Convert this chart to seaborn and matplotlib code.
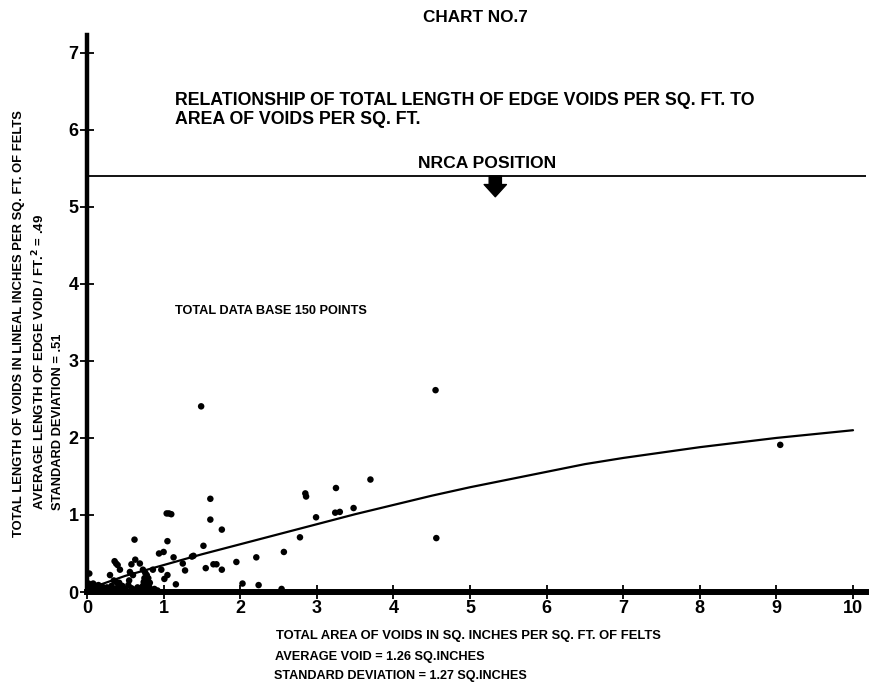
import matplotlib
matplotlib.use("Agg")
import matplotlib.pyplot as plt
import seaborn as sns
import pandas as pd
import numpy as np

# scatter points (area of voids, edge length)
void_area = [
    1.49, 4.55, 4.56, 9.05, 3.70, 3.25, 2.85, 2.86, 3.48, 3.24, 3.30, 2.99,
    2.78, 2.57, 2.21, 1.95, 2.03, 2.24, 2.54, 1.61, 1.61, 1.76, 1.52, 1.37,
    1.39, 1.25, 1.28, 1.55, 1.65, 1.69, 1.76, 1.04, 1.07, 1.10, 0.62, 1.05,
    0.94, 1.00, 1.13, 0.36, 0.38, 0.40, 0.43, 0.58, 0.63, 0.69, 0.73, 0.56,
    0.60, 0.30, 0.03, 0.97, 1.01, 1.05, 0.86, 1.16,
    0.76, 0.78, 0.75, 0.80, 0.74, 0.78, 0.82, 0.73, 0.77, 0.81, 0.72, 0.76,
    0.80, 0.84, 0.78,
    0.02, 0.05, 0.08, 0.10, 0.13, 0.15, 0.18, 0.20, 0.23, 0.26, 0.29, 0.32,
    0.35, 0.38, 0.40, 0.43, 0.46, 0.50, 0.54, 0.58, 0.62, 0.66, 0.70, 0.88,
    0.92, 0.02, 0.06, 0.12, 0.16, 0.28, 0.48, 0.35, 0.42, 0.55,
]
edge_length = [
    2.41, 2.62, 0.70, 1.91, 1.46, 1.35, 1.28, 1.24, 1.09, 1.03, 1.04, 0.97,
    0.71, 0.52, 0.45, 0.39, 0.11, 0.09, 0.04, 1.21, 0.94, 0.81, 0.60, 0.46,
    0.47, 0.37, 0.28, 0.31, 0.36, 0.36, 0.29, 1.02, 1.02, 1.01, 0.68, 0.66,
    0.50, 0.52, 0.45, 0.40, 0.37, 0.35, 0.29, 0.36, 0.42, 0.37, 0.29, 0.26,
    0.22, 0.22, 0.24, 0.29, 0.17, 0.22, 0.29, 0.10,
    0.25, 0.22, 0.18, 0.18, 0.13, 0.13, 0.12, 0.08, 0.08, 0.07, 0.03, 0.03,
    0.03, 0.03, 0.05,
    0.11, 0.09, 0.11, 0.06, 0.08, 0.09, 0.05, 0.07, 0.04, 0.06, 0.05, 0.08,
    0.04, 0.13, 0.06, 0.03, 0.08, 0.04, 0.09, 0.05, 0.03, 0.06, 0.04, 0.04,
    0.02, 0.03, 0.02, 0.02, 0.03, 0.02, 0.02, 0.15, 0.12, 0.15,
]

# fitted curve
curve_x = [0.1, 0.5, 1, 1.5, 2, 2.5, 3, 3.5, 4, 4.5, 5, 5.5, 6, 6.5, 7,
           7.5, 8, 8.5, 9, 9.5, 10]
curve_y = [0.07, 0.21, 0.35, 0.49, 0.62, 0.75, 0.88, 1.01, 1.13, 1.25, 1.36,
           1.46, 1.56, 1.66, 1.74, 1.81, 1.88, 1.94, 2.00, 2.05, 2.10]

nrca_level = 5.4
nrca_arrow_x = 5.33

x_ticks = list(range(0, 11))
y_ticks = list(range(0, 8))

pts = pd.DataFrame({'area': void_area, 'length': edge_length})
fit = pd.DataFrame({'area': curve_x, 'length': curve_y})

sns.set_style('ticks')
plt.rcParams['font.family'] = ['Liberation Sans', 'DejaVu Sans']
plt.rcParams['font.weight'] = 'bold'
plt.rcParams['text.color'] = 'black'
plt.rcParams['axes.edgecolor'] = 'black'
plt.rcParams['xtick.color'] = 'black'
plt.rcParams['ytick.color'] = 'black'

fig = plt.figure(figsize=(8.71, 6.83), dpi=100)
ax = fig.add_axes([0.0999, 0.1332, 0.8944, 0.8156])

sns.lineplot(data=fit, x='area', y='length', ax=ax, color='black', linewidth=1.6)
sns.scatterplot(data=pts, x='area', y='length', ax=ax, color='black', s=22,
                edgecolor='none', linewidth=0, zorder=3)

ax.axhline(nrca_level, color='black', linewidth=1.3)
ax.annotate('', xy=(nrca_arrow_x, nrca_level - 0.27), xytext=(nrca_arrow_x, nrca_level),
            arrowprops=dict(arrowstyle='simple,head_length=0.55,head_width=1.0,tail_width=0.55',
                            color='black', mutation_scale=16, shrinkA=0, shrinkB=0))

ax.set_xlim(0, 10.17)
ax.set_ylim(0, 7.23)
ax.set_xticks(x_ticks)
ax.set_yticks(y_ticks)
ax.set_xlabel('')
ax.set_ylabel('')
ax.tick_params(direction='inout', length=10, width=1.3, labelsize=13, pad=1,
               colors='black')

for side in ['top', 'right']:
    ax.spines[side].set_visible(False)
ax.spines['bottom'].set_linewidth(4.3)
ax.spines['left'].set_linewidth(3.2)
ax.spines['bottom'].set_color('black')
ax.spines['left'].set_color('black')
for lab in ax.get_xticklabels() + ax.get_yticklabels():
    lab.set_fontweight('bold')

W, H = 871, 683
def ftxt(px, py, s, **kw):
    fig.text(px / W, 1 - py / H, s, fontweight='bold', color='black', **kw)

ftxt(423, 18, 'CHART NO.7', fontsize=12.3, ha='left', va='center')
ftxt(175, 92, 'RELATIONSHIP OF TOTAL LENGTH OF EDGE VOIDS PER SQ. FT. TO\nAREA OF VOIDS PER SQ. FT.',
     fontsize=12.8, ha='left', va='top', linespacing=1.12)
ftxt(418, 164, 'NRCA POSITION', fontsize=12.6, ha='left', va='center')
ftxt(175, 311, 'TOTAL DATA BASE 150 POINTS', fontsize=9.2, ha='left', va='center')

ftxt(276, 636, 'TOTAL AREA OF VOIDS IN SQ. INCHES PER SQ. FT. OF FELTS', fontsize=9.4,
     ha='left', va='center')
ftxt(275, 657, 'AVERAGE VOID = 1.26 SQ.INCHES', fontsize=9.2, ha='left', va='center')
ftxt(274, 676, 'STANDARD DEVIATION = 1.27 SQ.INCHES', fontsize=9.1, ha='left', va='center')

ftxt(19, 537, 'TOTAL LENGTH OF VOIDS IN LINEAL INCHES PER SQ. FT. OF FELTS', fontsize=9.4,
     rotation=90, ha='center', va='bottom')
ftxt(39, 510, 'AVERAGE LENGTH OF EDGE VOID / FT.$^{\\mathbf{2}}$ = .49', fontsize=9.5,
     rotation=90, ha='center', va='bottom')
ftxt(58, 510, 'STANDARD DEVIATION = .51', fontsize=9.3,
     rotation=90, ha='center', va='bottom')

fig.savefig('out.png', dpi=100)
